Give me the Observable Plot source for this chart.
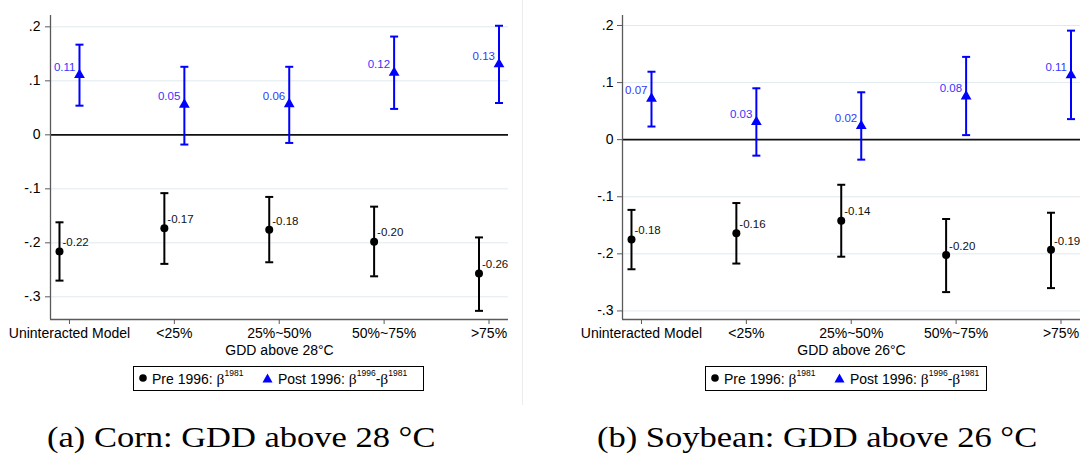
<!DOCTYPE html>
<html>
<head>
<meta charset="utf-8">
<script src="https://cdn.jsdelivr.net/npm/d3@7"></script>
<script src="https://cdn.jsdelivr.net/npm/@observablehq/plot@0.6"></script>
<style>
  html, body { margin: 0; padding: 0; background: #fff; overflow: hidden; }
  #root { position: relative; width: 1092px; height: 461px; background: #fff; overflow: hidden;
          font-family: "Liberation Sans", Arial, sans-serif; }
  .panel { position: absolute; top: 0; line-height: 0; }
  .panel svg { overflow: visible; max-width: none !important; }
  .sep { position: absolute; left: 522px; top: 0; width: 1px; height: 405px; background: #ececec; }
  .legend { position: absolute; top: 366px; height: 25px; border: 1px solid #000; box-sizing: border-box;
            font-size: 14px; color: #000; }
  .legend .mk { position: absolute; top: 6px; line-height: 0; }
  .legend .lbl { position: absolute; top: 4px; white-space: nowrap; line-height: 16px; }
  .legend .beta { font-family: "Liberation Serif", "Times New Roman", serif; font-size: 15.5px; }
  .legend sup { font-size: 8.5px; position: relative; top: -2px; vertical-align: super; line-height: 0; }
  .caption { position: absolute; top: 420px; font-family: "Liberation Serif", "Times New Roman", serif;
             font-size: 30px; white-space: nowrap; transform: scaleX(1.15); transform-origin: left center; color: #000; }
</style>
</head>
<body>
<div id="root">
  <div class="panel" id="pA" style="left:0px"></div>
  <div class="panel" id="pB" style="left:523px"></div>
  <div class="sep"></div>
  <div class="legend" id="legA" style="left:133px;width:291px"></div>
  <div class="legend" id="legB" style="left:705px;width:282px"></div>
  <div class="caption" id="capA" style="left:47px"></div>
  <div class="caption" id="capB" style="left:597px"></div>
</div>
<script>
// ---------- data ----------
const categories = ["Uninteracted Model", "<25%", "25%~50%", "50%~75%", ">75%"];
const categoryIndex = [1, 2, 3, 4, 5];
const yTickValues = [-0.3, -0.2, -0.1, 0, 0.1, 0.2];
const yTickLabels = ["-.3", "-.2", "-.1", "0", ".1", ".2"];

// Corn (GDD above 28°C)
const cornPre       = [-0.216, -0.173, -0.176, -0.198, -0.257];
const cornPreLo     = [-0.270, -0.239, -0.236, -0.262, -0.326];
const cornPreHi     = [-0.162, -0.108, -0.115, -0.133, -0.190];
const cornPreLabels = ["-0.22", "-0.17", "-0.18", "-0.20", "-0.26"];
const cornPost       = [0.111, 0.056, 0.057, 0.115, 0.131];
const cornPostLo     = [0.054, -0.018, -0.015, 0.048, 0.059];
const cornPostHi     = [0.167, 0.126, 0.126, 0.182, 0.202];
const cornPostLabels = ["0.11", "0.05", "0.06", "0.12", "0.13"];

// Soybean (GDD above 26°C)
const soyPre       = [-0.175, -0.164, -0.142, -0.202, -0.193];
const soyPreLo     = [-0.227, -0.217, -0.205, -0.267, -0.260];
const soyPreHi     = [-0.123, -0.111, -0.079, -0.139, -0.128];
const soyPreLabels = ["-0.18", "-0.16", "-0.14", "-0.20", "-0.19"];
const soyPost       = [0.072, 0.031, 0.024, 0.076, 0.113];
const soyPostLo     = [0.023, -0.028, -0.035, 0.008, 0.036];
const soyPostHi     = [0.119, 0.090, 0.083, 0.145, 0.191];
const soyPostLabels = ["0.07", "0.03", "0.02", "0.08", "0.11"];

const xTitles = ["GDD above 28°C", "GDD above 26°C"];
const captions = ["(a) Corn: GDD above 28 °C", "(b) Soybean: GDD above 26 °C"];
const legendPre = "Pre 1996: ";
const legendPost = "Post 1996: ";

// ---------- helpers ----------
const capSymbol = {
  draw(ctx, size) {
    const w = Math.sqrt(size / Math.PI);
    ctx.moveTo(-w, 0);
    ctx.lineTo(w, 0);
  }
};

function rows(v, lo, hi, lab) {
  return categoryIndex.map((c, i) => ({i: c, v: v[i], lo: lo[i], hi: hi[i], label: lab[i]}));
}

function panel({pre, post, xTitle, width, marginLeft, marginRight, yDomain, yTickPad}) {
  const xDomain = [0.819, 5.186];
  const BLUE = "#0000ff";
  const preDx = -10, postDx = 10;
  return Plot.plot({
    width, height: 360,
    marginTop: 15, marginBottom: 41, marginLeft, marginRight,
    x: {type: "linear", domain: xDomain, axis: null},
    y: {type: "linear", domain: yDomain, axis: null},
    style: {fontFamily: "'Liberation Sans', Arial, sans-serif", fontSize: "14px", background: "white", overflow: "visible"},
    marks: [
      Plot.gridY(yTickValues, {stroke: "#dfeaef", strokeOpacity: 1, strokeWidth: 1}),
      Plot.ruleY([0], {stroke: "#111", strokeWidth: 1.6}),
      Plot.ruleX([xDomain[0]], {stroke: "#5a5a5a", strokeWidth: 1.3}),
      Plot.ruleY([yDomain[0]], {stroke: "#5a5a5a", strokeWidth: 1.3}),
      Plot.axisY(yTickValues, {
        tickFormat: d => yTickLabels[yTickValues.indexOf(d)],
        tickSize: 5, tickPadding: yTickPad, stroke: "#5a5a5a", fill: "black", fontSize: 14, label: null
      }),
      Plot.axisX(categoryIndex, {
        tickFormat: d => categories[d - 1],
        tickSize: 5, tickPadding: 4, stroke: "#5a5a5a", fill: "black", fontSize: 14, label: null
      }),
      Plot.text([xTitle], {frameAnchor: "bottom", dy: 35, fontSize: 14, fill: "black"}),
      // pre 1996 (black)
      Plot.ruleX(pre, {x: "i", y1: "lo", y2: "hi", dx: preDx, stroke: "black", strokeWidth: 2}),
      Plot.dot(pre, {x: "i", y: "hi", dx: preDx, symbol: capSymbol, r: 4, fill: "none", stroke: "black", strokeWidth: 2}),
      Plot.dot(pre, {x: "i", y: "lo", dx: preDx, symbol: capSymbol, r: 4, fill: "none", stroke: "black", strokeWidth: 2}),
      Plot.dot(pre, {x: "i", y: "v", dx: preDx, symbol: "circle", r: 4, fill: "black", stroke: "none"}),
      Plot.text(pre, {x: "i", y: "v", text: "label", dx: preDx + 3, dy: -9, textAnchor: "start", fontSize: 11.5, fill: "#111"}),
      // post 1996 (blue)
      Plot.ruleX(post, {x: "i", y1: "lo", y2: "hi", dx: postDx, stroke: BLUE, strokeWidth: 2}),
      Plot.dot(post, {x: "i", y: "hi", dx: postDx, symbol: capSymbol, r: 4, fill: "none", stroke: BLUE, strokeWidth: 2}),
      Plot.dot(post, {x: "i", y: "lo", dx: postDx, symbol: capSymbol, r: 4, fill: "none", stroke: BLUE, strokeWidth: 2}),
      Plot.dot(post, {x: "i", y: "v", dx: postDx, symbol: "triangle", r: 4, fill: BLUE, stroke: "none"}),
      Plot.text(post, {x: "i", y: "v", text: "label", dx: postDx - 4, dy: -8, textAnchor: "end", fontSize: 11.5, fill: "#3535ff"})
    ]
  });
}

document.getElementById("pA").appendChild(panel({
  pre: rows(cornPre, cornPreLo, cornPreHi, cornPreLabels),
  post: rows(cornPost, cornPostLo, cornPostHi, cornPostLabels),
  xTitle: xTitles[0], width: 523, marginLeft: 50, marginRight: 15,
  yDomain: [-0.342, 0.221], yTickPad: 5
}));
document.getElementById("pB").appendChild(panel({
  pre: rows(soyPre, soyPreLo, soyPreHi, soyPreLabels),
  post: rows(soyPost, soyPostLo, soyPostHi, soyPostLabels),
  xTitle: xTitles[1], width: 569, marginLeft: 99, marginRight: 12,
  yDomain: [-0.315, 0.2175], yTickPad: 4
}));

function legendHTML() {
  return `
    <span class="mk" style="left:4px"><svg width="10" height="10"><circle cx="5" cy="5" r="3.8" fill="black"/></svg></span>
    <span class="lbl" style="left:18px">${legendPre}<span class="beta">β</span><sup>1981</sup></span>
    <span class="mk" style="left:128px"><svg width="11" height="10"><path d="M5.5,0.5 L10.5,9.5 L0.5,9.5 Z" fill="#0000ff"/></svg></span>
    <span class="lbl" style="left:144px">${legendPost}<span class="beta">β</span><sup>1996</sup>-<span class="beta">β</span><sup>1981</sup></span>`;
}
document.getElementById("legA").innerHTML = legendHTML();
document.getElementById("legB").innerHTML = legendHTML();
document.getElementById("capA").textContent = captions[0];
document.getElementById("capB").textContent = captions[1];
</script>
</body>
</html>
